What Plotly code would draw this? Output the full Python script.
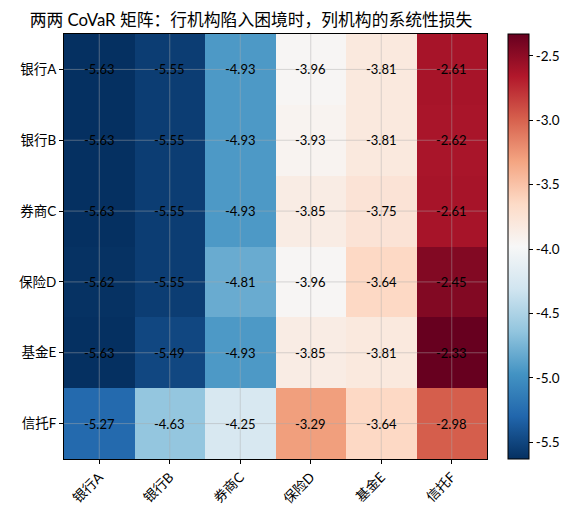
import plotly.graph_objects as go

rows = ["银行A", "银行B", "券商C", "保险D", "基金E", "信托F"]
cols = ["银行A", "银行B", "券商C", "保险D", "基金E", "信托F"]
values = [
    [-5.63, -5.55, -4.93, -3.96, -3.81, -2.61],
    [-5.63, -5.55, -4.93, -3.93, -3.81, -2.62],
    [-5.63, -5.55, -4.93, -3.85, -3.75, -2.61],
    [-5.62, -5.55, -4.81, -3.96, -3.64, -2.45],
    [-5.63, -5.49, -4.93, -3.85, -3.81, -2.33],
    [-5.27, -4.63, -4.25, -3.29, -3.64, -2.98],
]
cbar_ticks = [-2.5, -3.0, -3.5, -4.0, -4.5, -5.0, -5.5]

FONT = "Lato, Noto Sans CJK SC, sans-serif"
GRID = "rgba(170,170,170,0.45)"

zmin = min(min(r) for r in values)
zmax = max(max(r) for r in values)

fig = go.Figure(go.Heatmap(
    z=values, x=cols, y=rows,
    colorscale="RdBu", reversescale=True,
    zmin=zmin, zmax=zmax,
    xgap=0, ygap=0,
    colorbar=dict(
        x=1.05, xanchor="left", y=0.5, yanchor="middle",
        len=1, lenmode="fraction", thickness=21, xpad=0, ypad=0,
        outlinecolor="black", outlinewidth=1,
        tickvals=cbar_ticks, ticktext=[f"{t:.1f}" for t in cbar_ticks],
        ticks="outside", ticklen=4, tickcolor="black",
        tickfont=dict(family=FONT, size=13.5, color="black"),
    ),
))

shapes = []
for c in cols:
    shapes.append(dict(type="line", xref="x", yref="paper", x0=c, x1=c, y0=0, y1=1,
                       line=dict(color=GRID, width=1), layer="above"))
for r in rows:
    shapes.append(dict(type="line", xref="paper", yref="y", x0=0, x1=1, y0=r, y1=r,
                       line=dict(color=GRID, width=1), layer="above"))

annotations = []
for i, r in enumerate(rows):
    for j, c in enumerate(cols):
        annotations.append(dict(x=c, y=r, xref="x", yref="y", text=f"{values[i][j]:.2f}",
                                showarrow=False,
                                font=dict(family=FONT, size=13, color="black")))

fig.update_layout(
    width=575, height=521,
    margin=dict(l=64, r=88, t=34, b=62, autoexpand=False),
    paper_bgcolor="white", plot_bgcolor="white",
    title=dict(text="两两 CoVaR 矩阵：行机构陷入困境时，列机构的系统性损失",
               x=251 / 575, xanchor="center", y=1 - 20 / 521, yanchor="middle",
               font=dict(family=FONT, size=16.8, color="black")),
    font=dict(family=FONT, color="black"),
    shapes=shapes,
    annotations=annotations,
)
fig.update_xaxes(
    showline=True, linecolor="black", linewidth=1, mirror=True,
    ticks="outside", ticklen=4, tickcolor="black", tickangle=-45,
    tickfont=dict(family=FONT, size=13.5, color="black"),
    showgrid=False,
)
fig.update_yaxes(
    autorange="reversed",
    showline=True, linecolor="black", linewidth=1, mirror=True,
    ticks="outside", ticklen=4, tickcolor="black",
    tickfont=dict(family=FONT, size=13.5, color="black"),
    showgrid=False,
)

fig.write_html("out.html")
